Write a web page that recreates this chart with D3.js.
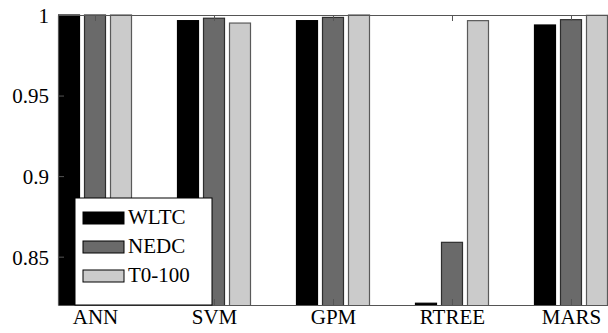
<!DOCTYPE html>
<html>
<head>
<meta charset="utf-8">
<script src="https://cdn.jsdelivr.net/npm/d3@7"></script>
<style>
  body { margin: 0; background: #fff; }
  svg text { font-family: "Liberation Serif", "Tinos", "Times New Roman", "Nimbus Roman", "DejaVu Serif", serif; }
</style>
</head>
<body>
<svg id="chart" width="608" height="333"></svg>
<script>
// data
const categories = ["ANN", "SVM", "GPM", "RTREE", "MARS"];
const series = ["WLTC", "NEDC", "T0-100"];
const wltc = [1.0, 0.9965, 0.9965, 0.8211, 0.9938];
const nedc = [1.0, 0.998, 0.9985, 0.8589, 0.9971];
const t0100 = [1.0, 0.995, 1.0, 0.9965, 0.9998];
const yTicks = [0.85, 0.9, 0.95, 1];

const fills = {"WLTC": "#000000", "NEDC": "#6a6a6a", "T0-100": "#cbcbcb"};
const strokes = {"WLTC": "#000000", "NEDC": "#2e2e2e", "T0-100": "#5a5a5a"};

const svg = d3.select("#chart");
const margin = {top: 15, right: 0, bottom: 28, left: 58};
const width = 608, height = 333;
const innerWidth = width - margin.left - margin.right;
const innerHeight = height - margin.top - margin.bottom;

const values = {"WLTC": wltc, "NEDC": nedc, "T0-100": t0100};
const rows = [];
categories.forEach((c, i) => {
  series.forEach(s => rows.push({cat: c, key: s, value: values[s][i]}));
});

const x = d3.scalePoint().domain(categories).range([0, innerWidth]).padding(0.311);
const x1 = d3.scalePoint().domain(series).range([-26, 26]);
const barW = 21;
const y = d3.scaleLinear().domain([0.82, 1]).range([innerHeight, 0]);

const g = svg.append("g").attr("transform", "translate(" + margin.left + "," + margin.top + ")");

g.append("clipPath").attr("id", "clip")
  .append("rect").attr("x", 0).attr("y", -1).attr("width", innerWidth).attr("height", innerHeight + 1);

g.append("g").attr("clip-path", "url(#clip)")
  .selectAll("rect")
  .data(rows)
  .enter()
  .append("rect")
  .attr("x", d => x(d.cat) + x1(d.key) - barW / 2)
  .attr("y", d => y(d.value))
  .attr("width", barW)
  .attr("height", d => innerHeight - y(d.value) + 2)
  .attr("fill", d => fills[d.key])
  .attr("stroke", d => strokes[d.key])
  .attr("stroke-width", 1.2);

// axes (pgfplots style box, ticks pointing inward)
const axisColor = "#555";
const topAxis = g.append("g")
  .call(d3.axisTop(x).tickSizeInner(-6).tickSizeOuter(0).tickFormat(""));
const bottomAxis = g.append("g")
  .attr("transform", "translate(0," + innerHeight + ")")
  .call(d3.axisBottom(x).tickSizeInner(-6).tickSizeOuter(0));
const leftAxis = g.append("g")
  .call(d3.axisLeft(y).tickValues(yTicks).tickSizeInner(-6).tickSizeOuter(0).tickPadding(9)
    .tickFormat(d => d === 1 ? "1" : String(d)));

[topAxis, bottomAxis, leftAxis].forEach(a => {
  a.attr("font-family", null);
  a.selectAll("path").attr("stroke", axisColor).attr("stroke-width", 1.2);
  a.selectAll("line").attr("stroke", axisColor).attr("stroke-width", 1);
  a.selectAll("text").attr("fill", "#000").attr("font-size", 21);
});
bottomAxis.selectAll("text").attr("dy", null).attr("y", 19);
leftAxis.selectAll("text").attr("dy", "0.35em");

// legend
const legend = g.append("g").attr("transform", "translate(17," + (198 - margin.top) + ")");
legend.append("rect")
  .attr("width", 137).attr("height", 107)
  .attr("fill", "#fff").attr("stroke", "#000").attr("stroke-width", 1);
series.forEach((s, i) => {
  const row = legend.append("g").attr("transform", "translate(0," + (26 + i * 29) + ")");
  row.append("rect")
    .attr("x", 8).attr("y", -12).attr("width", 41).attr("height", 12)
    .attr("fill", fills[s]).attr("stroke", "#000").attr("stroke-width", 1);
  row.append("text")
    .attr("x", 53).attr("y", 0)
    .attr("font-size", 21)
    .text(s);
});
</script>
</body>
</html>
